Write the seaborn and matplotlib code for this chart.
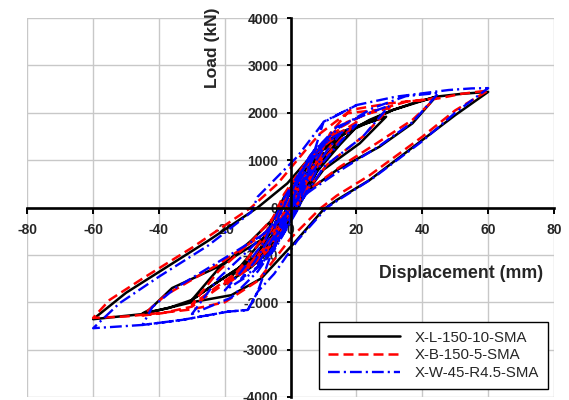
import matplotlib.pyplot as plt
import seaborn as sns

# hysteresis paths, in drawing order (disp in mm, load in kN)
black_disp = [0, 2, 5, 3, 0, -2, -5, -3, 0,
              3, 7, 10, 7, 3, 0, -4, -7, -10, -7, -3, 0,
              4, 9, 15, 11, 6, 1, -5, -10, -15, -11, -6, -1,
              5, 12, 20, 15, 8, 2, -5, -12, -20, -15, -8, -2,
              6, 14, 24, 29, 21, 10, 3, -3, -12, -22, -30, -22, -12, -4, 0,
              7, 15, 24, 31, 38, 44, 37, 27, 14, 7, 0, -3, -12, -22, -30, -37, -45,
              -43, -36, -22, -9, -2, 3,
              10, 20, 31, 44, 52, 60, 50, 40, 24, 14, 10, 1, -9, -18, -30, -45, -60,
              -50, -40, -25, -10, -1, 7, 14, 23, 28]
black_load = [0, 300, 650, 380, -50, -330, -620, -360, 80,
              520, 950, 1150, 820, 320, -150, -620, -900, -1080, -760, -280, 180,
              760, 1180, 1450, 1120, 620, -80, -760, -1120, -1380, -1040, -520, 200,
              900, 1380, 1700, 1330, 760, -40, -820, -1260, -1620, -1220, -640, 220,
              1020, 1565, 1800, 1916, 1354, 800, 150, -543, -1107, -1561, -1951, -1300, -700, -150, 320,
              1072, 1500, 1850, 2057, 2220, 2330, 1776, 1283, 791, 439, 88, -400, -1107, -1561, -1951, -2120, -2236,
              -2162, -1700, -1249, -686, -264, 200,
              1000, 1700, 2057, 2338, 2400, 2440, 1950, 1424, 580, 158, -40, -755, -1500, -1850, -2000, -2250, -2358,
              -1800, -1360, -700, 0, 510, 1146, 1494, 1776, 1900]

red_disp = [0, 2, 5, 3, 0, -2, -5, -3, 0,
            3, 7, 10, 7, 3, 0, -4, -7, -10, -7, -3, 0,
            4, 9, 15, 11, 6, 1, -5, -10, -15, -11, -6, -1,
            5, 12, 20, 15, 8, 2, -5, -12, -20, -15, -8, -2,
            6, 14, 22, 30, 22, 11, 3, -3, -12, -22, -30, -22, -12, -4, 0,
            7, 17, 26, 35, 44, 37, 26, 15, 8, 0, -4, -12, -22, -30, -39, -45,
            -38, -22, -9, -1, 4,
            12, 18, 30, 45, 52, 60, 50, 40, 24, 14, 9, 0, -10, -20, -30, -40, -50, -60,
            -55, -45, -30, -12, -4, 5, 9, 17, 26]
red_load = [0, 350, 700, 420, -20, -300, -600, -330, 100,
            560, 1000, 1200, 880, 380, -100, -580, -860, -1050, -720, -240, 220,
            800, 1250, 1550, 1200, 700, -20, -720, -1100, -1400, -1020, -480, 260,
            950, 1450, 1800, 1420, 850, 40, -780, -1250, -1650, -1250, -600, 280,
            1100, 1650, 1950, 2100, 1500, 900, 200, -520, -1150, -1650, -2050, -1350, -720, -120, 400,
            1150, 1800, 2050, 2230, 2304, 1850, 1350, 860, 500, 120, -500, -1200, -1700, -2093, -2230, -2280,
            -1850, -1200, -600, -150, 400,
            1565, 2057, 2200, 2304, 2400, 2470, 2050, 1494, 680, 250, -20, -650, -1550, -2000, -2150, -2230, -2300, -2330,
            -1951, -1500, -850, 0, 500, 1250, 1565, 1987, 2057]

blue_disp = [0, 2, 5, 3, 0, -2, -5, -3, 0,
             3, 7, 10, 7, 3, 0, -4, -7, -10, -7, -3, 0,
             4, 9, 15, 11, 6, 1, -5, -10, -15, -11, -6, -1,
             5, 12, 20, 15, 8, 2, -5, -12, -20, -15, -8, -2,
             6, 14, 24, 30, 22, 10, 3, -3, -10, -18, -30, -22, -12, -4, 0,
             7, 15, 25, 35, 45, 37, 27, 15, 7, 0, -5, -10, -13, -19, -33, -45,
             -42, -35, -22, -9, -2, 3,
             10, 20, 32, 48, 55, 60, 50, 40, 25, 15, 11, 2, -5, -10, -13, -19, -33, -45, -60,
             -52, -40, -25, -12, -10, 2, 10, 20]
blue_load = [0, 380, 720, 420, -80, -380, -680, -400, 60,
             600, 1050, 1250, 900, 360, -180, -700, -1000, -1200, -850, -330, 160,
             850, 1300, 1550, 1200, 680, -100, -850, -1250, -1500, -1150, -600, 180,
             950, 1450, 1750, 1380, 800, -60, -900, -1400, -1750, -1350, -720, 200,
             1100, 1700, 2000, 2150, 1500, 850, 100, -650, -1350, -1900, -2250, -1500, -850, -250, 350,
             1200, 1700, 2100, 2350, 2420, 1800, 1300, 780, 400, 50, -800, -1776, -2162, -2198, -2373, -2479,
             -2100, -1700, -1150, -600, -200, 250,
             1810, 2162, 2340, 2480, 2514, 2520, 2000, 1400, 620, 180, 0, -700, -1400, -1776, -2162, -2198, -2373, -2479, -2548,
             -2021, -1460, -800, -100, 228, 1072, 1800, 2160]

series_labels = ['X-L-150-10-SMA', 'X-B-150-5-SMA', 'X-W-45-R4.5-SMA']
x_ticks = list(range(-80, 81, 20))
y_ticks = list(range(-4000, 4001, 1000))

sns.set_style("whitegrid", {"grid.color": "#c8c8c8"})
plt.rcParams['font.family'] = ['Liberation Sans', 'DejaVu Sans']
plt.rcParams['axes.unicode_minus'] = False

fig = plt.figure(figsize=(5.69, 4.0), dpi=100)
ax = fig.add_axes([0.048, 0.0075, 0.9256, 0.9475])

sns.lineplot(x=black_disp, y=black_load, sort=False, estimator=None, color='black',
             lw=1.8, label=series_labels[0], ax=ax)
sns.lineplot(x=red_disp, y=red_load, sort=False, estimator=None, color='#ff0000',
             lw=1.8, linestyle=(0, (4.0, 2.0)), label=series_labels[1], ax=ax)
sns.lineplot(x=blue_disp, y=blue_load, sort=False, estimator=None, color='#0000ff',
             lw=1.7, linestyle=(0, (5.0, 1.7, 0.9, 1.7)), label=series_labels[2], ax=ax)

ax.set_xlim(-80, 80)
ax.set_ylim(-4000, 4000)
ax.set_xticks(x_ticks)
ax.set_yticks(y_ticks)
ax.grid(True, color='#c8c8c8', lw=1)

for side in ['top', 'right']:
    ax.spines[side].set_visible(False)
for side in ['left', 'bottom']:
    ax.spines[side].set_position(('data', 0))
    ax.spines[side].set_color('black')
    ax.spines[side].set_linewidth(1.9)

ax.tick_params(axis='x', bottom=True, length=4, width=1.4, color='black', pad=6.8, labelsize=10)
ax.tick_params(axis='y', left=True, length=3, width=1.4, color='black', pad=5.8, labelsize=10)
for lbl in ax.get_xticklabels() + ax.get_yticklabels():
    lbl.set_fontweight('bold')

ax.set_xlabel('')
ax.set_ylabel('')
fig.text(213 / 569, 1 - 48 / 400, 'Load (kN)', rotation=90, ha='center', va='center',
         fontsize=12.6, fontweight='bold')
fig.text(461 / 569, 1 - 273 / 400, 'Displacement (mm)', ha='center', va='center',
         fontsize=12.8, fontweight='bold')

leg = ax.legend(loc='lower right', bbox_to_anchor=(548 / 569, 1 - 389 / 400),
                bbox_transform=fig.transFigure, frameon=True, fancybox=False,
                edgecolor='black', framealpha=1, fontsize=10.8, handlelength=4.8,
                handletextpad=1.0, borderpad=0.6, labelspacing=0.25, borderaxespad=0)
leg.get_frame().set_linewidth(1.0)

fig.savefig('out.png', dpi=100)
